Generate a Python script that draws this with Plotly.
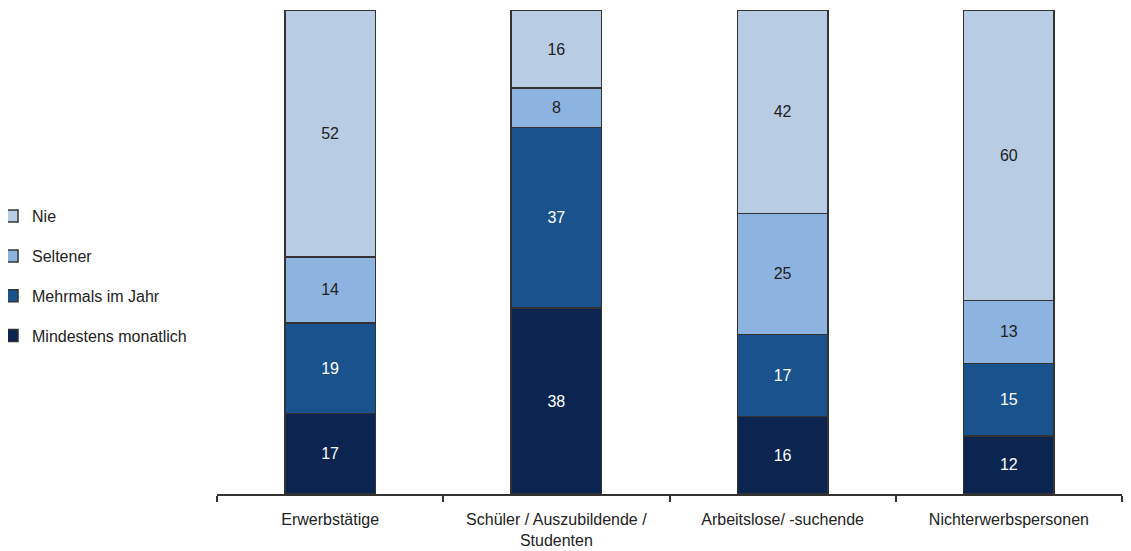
import plotly.graph_objects as go

categories = ["Erwerbstätige", "Schüler / Auszubildende /<br>Studenten", "Arbeitslose/ -suchende", "Nichterwerbspersonen"]
series_names = ["Mindestens monatlich", "Mehrmals im Jahr", "Seltener", "Nie"]
mindestens = [17, 38, 16, 12]
mehrmals = [19, 37, 17, 15]
seltener = [14, 8, 25, 13]
nie = [52, 16, 42, 60]

values = [mindestens, mehrmals, seltener, nie]
colors = ["#0B2550", "#1A528E", "#8DB3E0", "#B8CCE4"]
text_colors = ["white", "white", "#222222", "#222222"]
ranks = [4, 3, 2, 1]

FONT = "Liberation Sans Narrow, Arial Narrow, Liberation Sans, sans-serif"

fig = go.Figure()
for name, vals, col, tc, rk in zip(series_names, values, colors, text_colors, ranks):
    fig.add_trace(go.Bar(
        x=categories, y=vals, name=name, legendgroup=name, legendrank=rk,
        marker=dict(color=col, line=dict(color="#333333", width=1.5)),
        text=[str(v) for v in vals], textposition="inside",
        insidetextanchor="middle", textangle=0, constraintext="none",
        insidetextfont=dict(color=tc, size=16, family=FONT),
        hoverinfo="skip",
    ))

fig.update_layout(
    barmode="stack", barnorm="percent", bargap=0.6,
    width=1123, height=543,
    margin=dict(l=209, r=9, t=2, b=57, autoexpand=False),
    plot_bgcolor="white", paper_bgcolor="white",
    font=dict(family=FONT, size=16, color="#222222"),
    showlegend=True,
    legend=dict(x=-0.2486, xanchor="left", y=0.45, yanchor="middle",
                traceorder="grouped", tracegroupgap=16,
                font=dict(size=16, family=FONT, color="#222222"),
                itemwidth=30),
    uniformtext=dict(mode=False),
)
fig.update_xaxes(showline=True, linecolor="#333333", linewidth=1.5,
                 ticks="outside", tickson="boundaries", ticklen=6,
                 tickcolor="#333333", tickwidth=1.5, showgrid=False,
                 ticklabelstandoff=10,
                 tickfont=dict(size=16, family=FONT, color="#222222"))
fig.update_yaxes(range=[0, 100], visible=False, showgrid=False)

fig.write_html("out.html")
